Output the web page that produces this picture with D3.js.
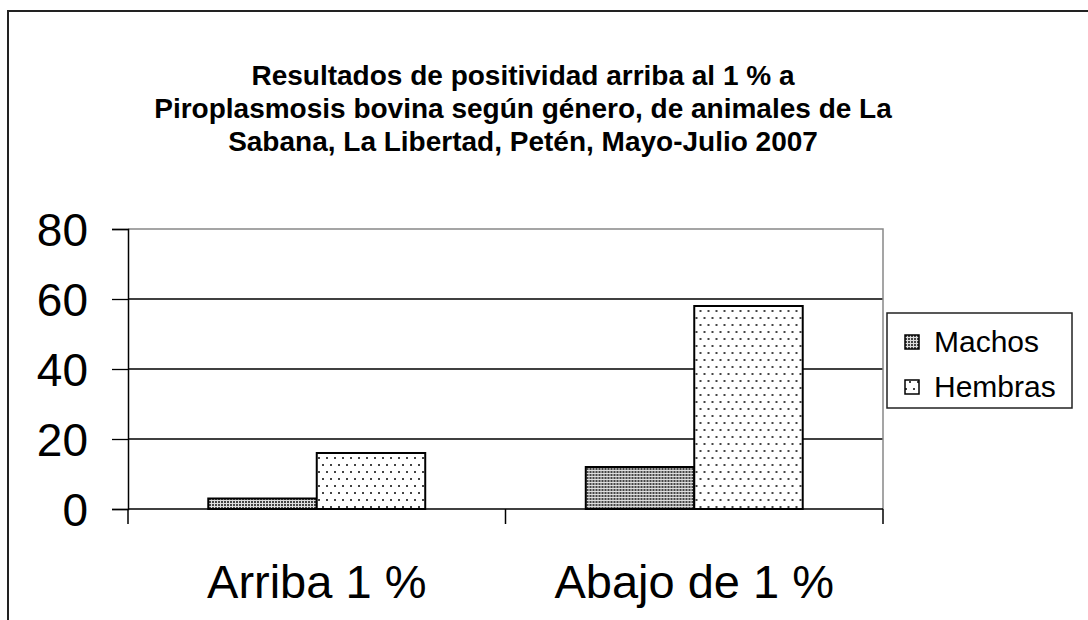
<!DOCTYPE html>
<html>
<head>
<meta charset="utf-8">
<script src="https://cdn.jsdelivr.net/npm/d3@7"></script>
<style>
  body { margin: 0; background: #fff; }
  text { font-family: "Liberation Sans", Arial, sans-serif; fill: #000; }
</style>
</head>
<body>
<svg width="1088" height="620"></svg>
<script>
// Chart data
const categories = ["Arriba 1 %", "Abajo de 1 %"];
const seriesNames = ["Machos", "Hembras"];
const machos = [3, 12];
const hembras = [16, 58];
const yTicks = [0, 20, 40, 60, 80];
const titleLines = [
    "Resultados de positividad arriba al 1 % a",
    "Piroplasmosis bovina según género, de animales de La",
    "Sabana, La Libertad, Petén, Mayo-Julio 2007"
];

const rows = categories.map((c, i) => ({ cat: c, Machos: machos[i], Hembras: hembras[i] }));

const svg = d3.select("svg");

// Patterns for bar fills
const defs = svg.append("defs");
const pDense = defs.append("pattern")
    .attr("id", "pat-machos")
    .attr("patternUnits", "userSpaceOnUse")
    .attr("width", 3).attr("height", 3);
pDense.append("rect").attr("width", 3).attr("height", 3).attr("fill", "#ddd");
pDense.append("rect").attr("width", 2).attr("height", 2).attr("fill", "#444");

const pSparse = defs.append("pattern")
    .attr("id", "pat-hembras")
    .attr("patternUnits", "userSpaceOnUse")
    .attr("width", 8).attr("height", 14);
pSparse.append("rect").attr("width", 8).attr("height", 14).attr("fill", "#fff");
pSparse.append("rect").attr("x", 2).attr("y", 2).attr("width", 2).attr("height", 2).attr("fill", "#444");
pSparse.append("rect").attr("x", 6).attr("y", 9).attr("width", 2).attr("height", 2).attr("fill", "#444");

const fills = { Machos: "url(#pat-machos)", Hembras: "url(#pat-hembras)" };

// Outer chart border (right/bottom edges fall off the canvas)
svg.append("rect")
    .attr("x", 8).attr("y", 11)
    .attr("width", 1100).attr("height", 640)
    .attr("fill", "none")
    .attr("stroke", "#222")
    .attr("stroke-width", 2);

// Title
svg.append("g")
    .selectAll("text")
    .data(titleLines)
    .enter()
    .append("text")
    .attr("x", 523)
    .attr("y", (d, i) => 85 + i * 33)
    .attr("text-anchor", "middle")
    .attr("font-size", 28)
    .attr("font-weight", "bold")
    .text((d) => d);

// Scales
const plot = { left: 128, right: 883, top: 229, bottom: 509 };

const x0 = d3.scaleBand()
    .domain(categories)
    .range([plot.left, plot.right])
    .padding(0);

const x1 = d3.scaleBand()
    .domain(seriesNames)
    .range([0, x0.bandwidth()])
    .paddingInner(0)
    .paddingOuter(0.74);

const y = d3.scaleLinear()
    .domain([0, 80])
    .range([plot.bottom, plot.top]);

// Gridlines
svg.append("g")
    .selectAll("line")
    .data(yTicks.filter((t) => t > 0 && t < 80))
    .enter()
    .append("line")
    .attr("x1", plot.left).attr("x2", plot.right)
    .attr("y1", (d) => y(d)).attr("y2", (d) => y(d))
    .attr("stroke", "#000")
    .attr("stroke-width", 1.3);

// Plot area border (top and right)
svg.append("path")
    .attr("d", `M${plot.left},${plot.top}H${plot.right}V${plot.bottom}`)
    .attr("fill", "none")
    .attr("stroke", "#888")
    .attr("stroke-width", 1.5);

// Bars
const groups = svg.append("g")
    .selectAll("g")
    .data(rows)
    .enter()
    .append("g")
    .attr("transform", (d) => `translate(${x0(d.cat)},0)`);

groups.selectAll("rect")
    .data((d) => seriesNames.map((s) => ({ key: s, value: d[s] })))
    .enter()
    .append("rect")
    .attr("x", (d) => x1(d.key))
    .attr("y", (d) => y(d.value))
    .attr("width", x1.bandwidth())
    .attr("height", (d) => y(0) - y(d.value))
    .attr("fill", (d) => fills[d.key])
    .attr("stroke", "#000")
    .attr("stroke-width", 2);

// Y axis
const yAxis = svg.append("g")
    .attr("transform", `translate(${plot.left},0)`)
    .call(d3.axisLeft(y).tickValues(yTicks).tickSize(16).tickPadding(24));
yAxis.select(".domain").attr("stroke", "#000").attr("stroke-width", 1.5);
yAxis.selectAll(".tick line").attr("stroke", "#000").attr("stroke-width", 1.3);
yAxis.selectAll(".tick text")
    .attr("font-size", 46)
    .attr("font-family", "Liberation Sans, Arial, sans-serif")
    .attr("fill", "#000")
    .attr("dy", "0.36em");

// X axis: ticks at band boundaries, labels at band centres
const xAxis = svg.append("g")
    .attr("transform", `translate(0,${plot.bottom})`);
xAxis.append("line")
    .attr("x1", plot.left).attr("x2", plot.right)
    .attr("stroke", "#000").attr("stroke-width", 1.5);
const bounds = categories.map((c) => x0(c)).concat([x0(categories[categories.length - 1]) + x0.bandwidth()]);
xAxis.selectAll("line.tk")
    .data(bounds)
    .enter()
    .append("line")
    .attr("class", "tk")
    .attr("x1", (d) => d).attr("x2", (d) => d)
    .attr("y1", 0).attr("y2", 15)
    .attr("stroke", "#000").attr("stroke-width", 1.5);
xAxis.selectAll("text")
    .data(categories)
    .enter()
    .append("text")
    .attr("x", (d) => x0(d) + x0.bandwidth() / 2)
    .attr("y", 89)
    .attr("text-anchor", "middle")
    .attr("font-size", 47)
    .text((d) => d);

// Legend
const legend = svg.append("g").attr("transform", "translate(887,313)");
legend.append("rect")
    .attr("width", 185).attr("height", 95)
    .attr("fill", "#fff")
    .attr("stroke", "#222")
    .attr("stroke-width", 1.5);
const items = legend.selectAll("g")
    .data(seriesNames)
    .enter()
    .append("g")
    .attr("transform", (d, i) => `translate(0,${28 + i * 45})`);
items.append("rect")
    .attr("x", 18).attr("y", -6)
    .attr("width", 14).attr("height", 14)
    .attr("fill", (d) => fills[d])
    .attr("stroke", "#000")
    .attr("stroke-width", 1.5);
items.append("text")
    .attr("x", 47)
    .attr("y", 11)
    .attr("font-size", 30)
    .text((d) => d);
</script>
</body>
</html>
